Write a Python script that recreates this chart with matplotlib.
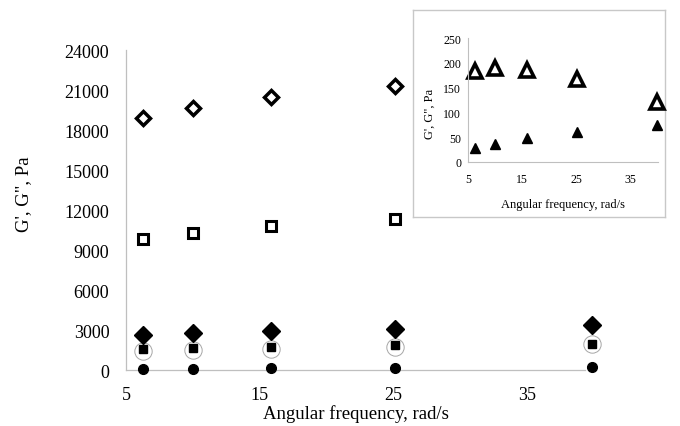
import matplotlib

matplotlib.use("Agg")

import matplotlib.pyplot as plt

plt.rcParams["font.family"] = ["Liberation Serif", "DejaVu Serif"]

# angular frequency, rad/s
freq = [6.28, 10.0, 15.8, 25.1, 39.8]

# main panel (Pa)
g_open_diamond = [18900, 19700, 20500, 21350]
g_open_square = [9800, 10300, 10800, 11350]
g_fill_diamond = [2600, 2750, 2900, 3100, 3400]
g_fill_square = [1600, 1650, 1750, 1850, 1980]
g_open_circle = [1450, 1480, 1550, 1720, 1960]
g_fill_circle = [90, 110, 130, 170, 220]

# inset (Pa)
inset_open_tri = [184, 189, 186, 167, 120]
inset_fill_tri = [28, 36, 48, 60, 75]

x_ticks = [5, 15, 25, 35]
main_y_ticks = [0, 3000, 6000, 9000, 12000, 15000, 18000, 21000, 24000]
inset_y_ticks = [0, 50, 100, 150, 200, 250]

axis_grey = "#bfbfbf"

fig = plt.figure(figsize=(6.8, 4.27), dpi=100)
ax = fig.add_axes([0.1853, 0.131, 0.675, 0.749])

n = len(g_open_diamond)
ax.plot(freq[:n], g_open_diamond, "D", ms=7.5, mfc="white", mec="black",
        mew=2.5, ls="none", clip_on=False, zorder=3)
ax.plot(freq[:n], g_open_square, "s", ms=6.8, mfc="white", mec="black",
        mew=2.2, ls="none", clip_on=False, zorder=3)
ax.plot(freq, g_open_circle, "o", ms=12.5, mfc="white", mec="#a6a6a6",
        mew=0.7, ls="none", clip_on=False, zorder=3)
ax.plot(freq, g_fill_diamond, "D", ms=9, color="black", ls="none",
        clip_on=False, zorder=4)
ax.plot(freq, g_fill_square, "s", ms=6, color="black", ls="none",
        clip_on=False, zorder=4)
ax.plot(freq, g_fill_circle, "o", ms=7, color="black", ls="none",
        clip_on=False, zorder=4)

ax.set_xlim(5, 39.3)
ax.set_ylim(0, 24000)
ax.set_xticks(x_ticks)
ax.set_yticks(main_y_ticks)
ax.tick_params(length=0, labelsize=13)
ax.tick_params(axis="y", pad=12)
ax.tick_params(axis="x", pad=11.5)
for side in ("top", "right"):
    ax.spines[side].set_visible(False)
for side in ("left", "bottom"):
    ax.spines[side].set_color(axis_grey)
    ax.spines[side].set_linewidth(0.9)
ax.set_xlabel("Angular frequency, rad/s", fontsize=13.5, labelpad=1)
ax.set_ylabel("G', G\", Pa", fontsize=13.5)
ax.yaxis.set_label_coords(-0.205, 0.553)

# inset frame
frame = fig.add_axes([413 / 680, 1 - 218 / 427, 252 / 680, 207 / 427])
frame.set_xticks([])
frame.set_yticks([])
for spine in frame.spines.values():
    spine.set_color("#c8c8c8")
    spine.set_linewidth(1.0)
frame.set_zorder(5)

ins = fig.add_axes([468 / 680, 1 - 163 / 427, 190 / 680, 124 / 427])
ins.set_zorder(6)
ins.patch.set_alpha(0)
ins.plot(freq, inset_open_tri, "^", ms=10, mfc="white", mec="black",
         mew=2.6, ls="none", clip_on=False)
ins.plot(freq, inset_fill_tri, "^", ms=6.8, color="black", ls="none",
         clip_on=False)
ins.set_xlim(5, 40)
ins.set_ylim(0, 250)
ins.set_xticks(x_ticks)
ins.set_yticks(inset_y_ticks)
ins.tick_params(length=0, labelsize=8.5)
ins.tick_params(axis="y", pad=5)
ins.tick_params(axis="x", pad=8)
for side in ("top", "right"):
    ins.spines[side].set_visible(False)
for side in ("left", "bottom"):
    ins.spines[side].set_color(axis_grey)
    ins.spines[side].set_linewidth(0.8)
ins.set_xlabel("Angular frequency, rad/s", fontsize=9, labelpad=9)
ins.set_ylabel("G', G\", Pa", fontsize=9)
ins.yaxis.set_label_coords(-0.168, 0.395)

fig.savefig("out.png", dpi=100)
